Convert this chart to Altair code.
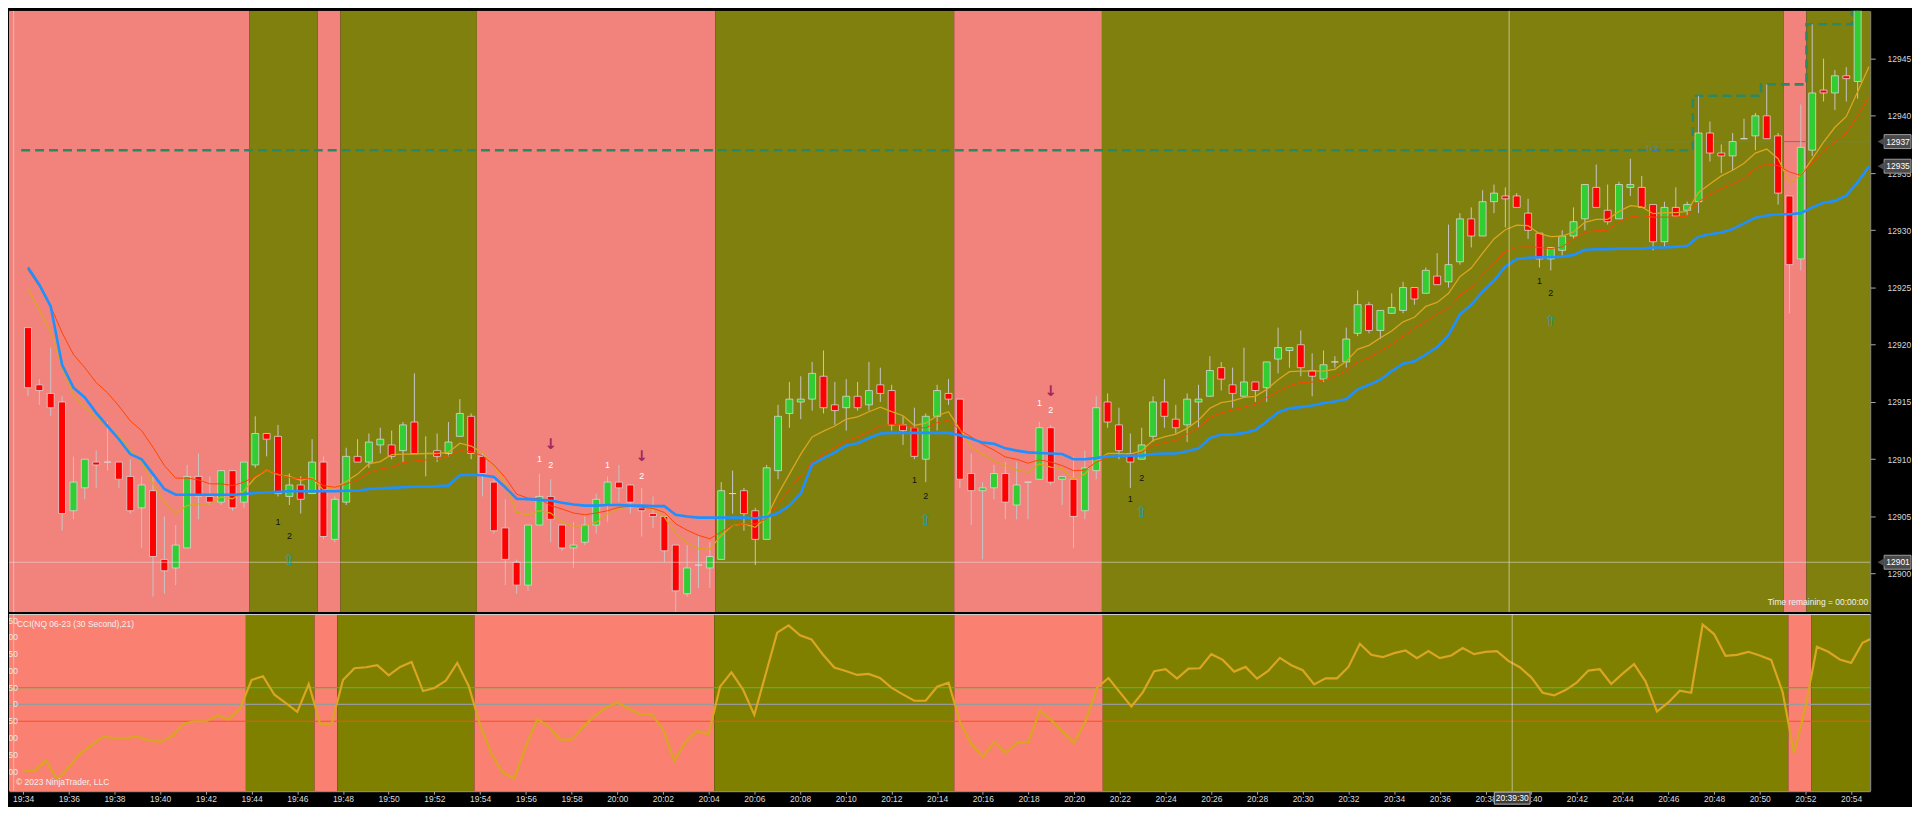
import altair as alt
import numpy as np
import pandas as pd

# ---------------- data ----------------
START = "2023-05-10 19:34:00"
BAR_SECONDS = 30

OPEN = [
    12921.5, 12916.5, 12915.75, 12915.0, 12905.5, 12907.5, 12909.75, 12909.75, 12909.75, 12908.5,
    12905.75, 12907.25, 12901.25, 12900.5, 12902.25, 12908.5, 12906.75, 12906.25, 12909.0, 12906.25,
    12909.5, 12912.25, 12912.0, 12906.75, 12907.75, 12907.0, 12909.75, 12903.0, 12906.25, 12910.25,
    12909.75, 12911.25, 12911.25, 12910.75, 12913.25, 12910.5, 12910.75, 12910.5, 12912.0, 12913.75,
    12910.25, 12908.0, 12904.0, 12901.0, 12899.0, 12904.25, 12906.75, 12904.25, 12902.25, 12902.75,
    12904.25, 12906.0, 12908.0, 12907.75, 12905.75, 12905.25, 12905.0, 12902.5, 12898.25, 12900.75,
    12900.5, 12901.25, 12907.0, 12907.25, 12905.5, 12903.0, 12909.0, 12914.0, 12915.0, 12915.25,
    12917.25, 12914.75, 12914.5, 12915.5, 12914.75, 12916.5, 12916.0, 12913.0, 12912.75, 12910.0,
    12913.75, 12915.75, 12915.25, 12908.75, 12907.25, 12907.5, 12908.75, 12906.0, 12908.0, 12908.25,
    12912.75, 12908.25, 12908.25, 12905.5, 12909.0, 12915.0, 12913.0, 12910.5, 12910.0, 12912.0,
    12915.0, 12913.5, 12913.0, 12915.0, 12915.5, 12918.0, 12916.5, 12915.5, 12916.75, 12916.25,
    12918.75, 12919.5, 12920.0, 12917.75, 12917.0, 12918.5, 12918.5, 12921.0, 12923.5, 12921.25,
    12922.75, 12923.0, 12925.0, 12924.5, 12926.0, 12925.5, 12927.25, 12931.0, 12929.5, 12932.5,
    12933.0, 12933.0, 12931.5, 12929.75, 12927.5, 12928.25, 12929.5, 12931.0, 12933.75, 12931.75,
    12931.0, 12933.75, 12933.75, 12932.25, 12929.0, 12932.0, 12931.75, 12932.5, 12938.5, 12936.75,
    12936.5, 12938.0, 12938.25, 12940.0, 12938.25, 12933.0, 12927.5, 12937.0, 12942.25, 12942.0,
    12943.5, 12943.0, 12950.5]

HIGH = [
    12921.5, 12917.0, 12919.75, 12915.5, 12910.25, 12910.0, 12910.75, 12913.25, 12909.75, 12910.0,
    12908.5, 12908.5, 12905.0, 12904.25, 12909.5, 12910.5, 12908.5, 12909.0, 12909.0, 12909.75,
    12913.75, 12912.25, 12913.0, 12908.75, 12908.5, 12911.75, 12910.25, 12906.75, 12911.0, 12911.75,
    12912.25, 12912.75, 12912.5, 12913.25, 12917.5, 12912.0, 12912.25, 12913.25, 12915.25, 12914.0,
    12910.5, 12908.25, 12906.5, 12901.25, 12904.25, 12908.75, 12908.25, 12904.25, 12904.5, 12905.0,
    12907.0, 12908.5, 12909.5, 12907.75, 12907.5, 12906.75, 12905.0, 12902.5, 12902.5, 12903.25,
    12902.75, 12908.0, 12909.0, 12907.5, 12905.75, 12909.5, 12914.75, 12916.75, 12917.25, 12918.5,
    12919.5, 12916.75, 12917.0, 12916.75, 12918.5, 12918.0, 12916.5, 12913.75, 12914.5, 12914.0,
    12916.5, 12917.0, 12915.25, 12910.5, 12908.0, 12909.5, 12909.75, 12909.75, 12908.0, 12913.25,
    12913.0, 12908.5, 12910.25, 12910.75, 12915.5, 12915.75, 12914.5, 12912.25, 12912.75, 12915.5,
    12917.0, 12914.75, 12915.75, 12916.5, 12919.0, 12918.5, 12918.0, 12919.75, 12916.75, 12918.5,
    12921.5, 12919.75, 12921.25, 12919.25, 12919.5, 12919.0, 12921.5, 12924.75, 12923.75, 12923.0,
    12924.5, 12925.5, 12925.0, 12926.75, 12928.0, 12930.5, 12931.5, 12932.0, 12933.5, 12934.0,
    12933.75, 12933.25, 12932.75, 12929.75, 12928.5, 12930.0, 12932.0, 12934.0, 12935.75, 12934.0,
    12934.25, 12936.25, 12934.75, 12932.25, 12932.5, 12933.75, 12932.5, 12941.75, 12939.5, 12937.5,
    12938.5, 12939.75, 12940.25, 12942.75, 12938.5, 12933.0, 12941.0, 12948.0, 12945.0, 12944.0,
    12944.25, 12950.5, 12952.0]

LOW = [
    12915.5, 12914.75, 12913.75, 12903.75, 12904.75, 12906.5, 12907.5, 12909.0, 12907.5, 12905.25,
    12902.25, 12898.0, 12898.25, 12899.0, 12902.25, 12904.75, 12906.0, 12906.0, 12905.5, 12905.75,
    12909.25, 12910.25, 12906.75, 12906.0, 12905.25, 12907.0, 12903.0, 12902.75, 12906.0, 12909.75,
    12909.25, 12910.5, 12910.0, 12909.75, 12910.5, 12908.5, 12909.75, 12910.25, 12912.0, 12910.0,
    12906.75, 12903.5, 12899.0, 12898.25, 12898.5, 12904.25, 12902.75, 12902.0, 12900.5, 12902.5,
    12903.5, 12904.5, 12906.25, 12905.25, 12903.25, 12904.0, 12901.0, 12896.5, 12898.0, 12898.75,
    12898.75, 12901.25, 12905.25, 12903.75, 12900.75, 12903.0, 12908.25, 12912.75, 12913.5, 12914.25,
    12914.0, 12913.0, 12912.5, 12914.25, 12914.25, 12915.0, 12912.5, 12911.25, 12910.0, 12908.0,
    12912.5, 12914.75, 12907.5, 12904.25, 12901.25, 12906.5, 12904.75, 12904.75, 12904.75, 12908.25,
    12907.75, 12906.0, 12902.25, 12904.75, 12908.25, 12912.75, 12910.0, 12907.5, 12910.0, 12911.5,
    12912.75, 12912.25, 12911.5, 12912.75, 12915.5, 12916.0, 12914.5, 12915.5, 12915.0, 12915.0,
    12917.5, 12918.0, 12917.25, 12915.5, 12916.75, 12918.0, 12918.0, 12920.75, 12921.0, 12920.5,
    12922.75, 12922.75, 12923.5, 12924.5, 12925.25, 12925.0, 12927.0, 12928.5, 12929.5, 12931.5,
    12930.25, 12932.0, 12929.25, 12926.75, 12926.5, 12927.75, 12929.25, 12930.0, 12932.0, 12930.5,
    12931.0, 12933.0, 12932.0, 12928.25, 12928.5, 12931.25, 12931.25, 12931.5, 12936.0, 12935.0,
    12935.25, 12938.0, 12937.0, 12938.0, 12932.25, 12922.75, 12926.5, 12936.5, 12941.25, 12940.5,
    12941.25, 12941.5, 12949.25]

CLOSE = [
    12916.25, 12916.0, 12914.5, 12905.25, 12908.0, 12910.0, 12909.5, 12909.75, 12908.25, 12905.5,
    12907.75, 12901.5, 12900.25, 12902.5, 12908.5, 12906.75, 12906.25, 12909.0, 12905.75, 12909.75,
    12912.25, 12911.75, 12907.0, 12907.75, 12906.5, 12909.75, 12903.25, 12906.5, 12910.25, 12909.75,
    12911.5, 12911.75, 12910.25, 12913.0, 12910.5, 12910.5, 12910.25, 12911.5, 12914.0, 12910.5,
    12908.75, 12903.75, 12901.25, 12899.0, 12904.25, 12906.75, 12904.75, 12902.25, 12902.5, 12904.25,
    12906.5, 12908.0, 12907.5, 12906.25, 12905.5, 12905.0, 12902.0, 12898.5, 12900.5, 12900.75,
    12901.5, 12907.25, 12907.0, 12905.25, 12903.0, 12909.25, 12913.75, 12915.25, 12915.25, 12917.5,
    12914.5, 12914.25, 12915.5, 12914.5, 12916.0, 12915.75, 12913.0, 12912.5, 12910.25, 12913.75,
    12916.0, 12915.25, 12908.25, 12907.25, 12907.5, 12908.75, 12906.25, 12907.75, 12908.0, 12912.75,
    12908.0, 12908.5, 12905.0, 12909.25, 12914.5, 12913.25, 12910.75, 12909.75, 12911.25, 12915.0,
    12913.75, 12912.75, 12915.25, 12915.25, 12917.75, 12917.0, 12915.75, 12916.75, 12916.0, 12918.5,
    12919.75, 12919.75, 12918.0, 12917.25, 12918.25, 12918.5, 12920.5, 12923.5, 12921.25, 12923.0,
    12923.25, 12925.0, 12924.0, 12926.5, 12925.25, 12927.0, 12931.0, 12929.5, 12932.5, 12933.25,
    12932.75, 12932.0, 12930.0, 12927.5, 12928.5, 12929.5, 12930.75, 12934.0, 12932.0, 12930.75,
    12934.0, 12934.0, 12932.0, 12929.0, 12932.0, 12931.25, 12932.25, 12938.5, 12936.75, 12936.5,
    12937.75, 12938.0, 12940.0, 12938.0, 12933.25, 12927.0, 12937.25, 12942.0, 12942.0, 12943.5,
    12943.25, 12949.75, 12951.5]

MA_BLUE = [
    12926.75, 12925.25, 12923.35, 12918.25, 12916.25, 12915.4, 12914.05, 12912.9, 12911.75, 12910.45,
    12910.0, 12908.7, 12907.4, 12906.9, 12906.9, 12906.9, 12906.9, 12906.9, 12906.9, 12906.95,
    12907.05, 12907.1, 12907.15, 12907.2, 12907.2, 12907.2, 12907.2, 12907.2, 12907.25, 12907.25,
    12907.4, 12907.45, 12907.5, 12907.55, 12907.6, 12907.6, 12907.65, 12907.7, 12908.6, 12908.65,
    12908.6, 12908.45, 12907.55, 12906.55, 12906.5, 12906.45, 12906.4, 12906.2, 12906.05, 12905.95,
    12905.95, 12906.0, 12906.0, 12905.95, 12905.95, 12905.9, 12905.9, 12905.15, 12905.0, 12904.9,
    12904.9, 12904.9, 12904.9, 12904.9, 12904.85, 12904.95, 12905.3, 12905.95, 12907.0, 12909.55,
    12910.1, 12910.6, 12911.2, 12911.4, 12911.85, 12912.25, 12912.3, 12912.3, 12912.3, 12912.3,
    12912.3, 12912.3, 12912.1, 12911.8, 12911.45, 12911.35, 12910.95, 12910.75, 12910.6, 12910.55,
    12910.5, 12910.45, 12910.0, 12910.0, 12910.1, 12910.25, 12910.3, 12910.3, 12910.3, 12910.45,
    12910.5, 12910.5, 12910.7, 12910.95, 12911.85, 12912.15, 12912.15, 12912.3, 12912.55, 12913.3,
    12914.1, 12914.45, 12914.55, 12914.7, 12914.9, 12915.05, 12915.25, 12916.1, 12916.5, 12916.95,
    12917.7, 12918.35, 12918.55, 12919.15, 12919.8, 12920.85, 12922.65, 12923.5, 12924.65, 12925.6,
    12926.85, 12927.5, 12927.6, 12927.65, 12927.65, 12927.7, 12927.85, 12928.3, 12928.35, 12928.35,
    12928.4, 12928.4, 12928.4, 12928.5, 12928.5, 12928.55, 12928.65, 12929.45, 12929.65, 12929.8,
    12930.1, 12930.6, 12931.1, 12931.3, 12931.4, 12931.4, 12931.5, 12932.0, 12932.4, 12932.55,
    12933.05, 12934.2, 12935.6]

MA_GOLD = [
    12924.9, 12923.05, 12921.15, 12918.0, 12915.65, 12914.5, 12913.65, 12912.9, 12912.05, 12910.75,
    12909.8, 12907.85, 12906.25, 12905.3, 12905.95, 12906.1, 12906.1, 12906.7, 12906.55, 12907.25,
    12908.4, 12909.05, 12908.65, 12908.5, 12908.15, 12908.4, 12907.3, 12907.55, 12908.05, 12908.7,
    12909.6, 12909.8, 12910.4, 12910.45, 12910.45, 12910.5, 12910.5, 12910.6, 12911.4, 12911.15,
    12910.55, 12909.45, 12907.85, 12905.35, 12905.15, 12905.5, 12905.3, 12904.5, 12904.15, 12904.2,
    12904.5, 12905.25, 12905.65, 12905.9, 12905.85, 12905.65, 12904.95, 12903.5, 12902.7, 12902.2,
    12902.15, 12903.35, 12904.2, 12904.35, 12904.05, 12904.95, 12906.95, 12908.7, 12910.45, 12911.95,
    12912.45, 12912.9, 12913.5, 12913.7, 12914.15, 12914.55, 12914.15, 12913.8, 12912.95, 12913.15,
    12913.8, 12914.15, 12912.6, 12911.05, 12910.45, 12909.85, 12909.45, 12909.05, 12908.85, 12909.6,
    12909.3, 12909.15, 12908.3, 12908.7, 12909.85, 12910.5, 12910.5, 12910.45, 12910.75, 12911.65,
    12911.95, 12912.2, 12912.7, 12913.4, 12914.45, 12914.95, 12915.1, 12915.4, 12915.5, 12916.1,
    12916.95, 12917.65, 12917.7, 12917.7, 12917.7, 12917.85, 12918.55, 12919.6, 12919.95, 12920.6,
    12921.2, 12922.0, 12922.4, 12923.35, 12923.7, 12924.5, 12925.95, 12926.7, 12928.0, 12929.25,
    12930.05, 12930.45, 12930.4, 12929.7, 12929.45, 12929.5, 12929.85, 12930.7, 12930.95, 12930.95,
    12931.65, 12932.15, 12932.05, 12931.45, 12931.55, 12931.55, 12931.65, 12933.3, 12934.05, 12934.75,
    12935.25, 12935.85, 12936.75, 12937.1, 12936.25, 12934.2, 12934.8, 12936.25, 12937.7, 12939.0,
    12939.95, 12942.1, 12944.3]

MA_RED = [
    12926.55, 12925.1, 12923.35, 12921.05, 12919.15, 12918.0, 12916.7, 12915.8, 12914.65, 12913.35,
    12912.5, 12911.05, 12909.45, 12908.35, 12908.35, 12908.2, 12907.85, 12907.85, 12907.7, 12908.0,
    12908.5, 12909.05, 12908.7, 12908.4, 12908.3, 12908.3, 12907.7, 12907.55, 12907.85, 12908.2,
    12908.85, 12909.15, 12909.3, 12909.7, 12909.85, 12909.95, 12910.0, 12910.3, 12910.75, 12910.65,
    12910.3, 12909.5, 12908.4, 12906.95, 12906.6, 12906.55, 12905.95, 12905.65, 12905.3, 12905.15,
    12905.3, 12905.5, 12905.8, 12905.9, 12905.8, 12905.7, 12905.35, 12904.35, 12903.8, 12903.35,
    12903.05, 12903.65, 12904.2, 12904.35, 12904.35, 12904.8, 12906.1, 12907.4, 12908.55, 12909.7,
    12910.45, 12911.05, 12911.6, 12911.95, 12912.4, 12912.9, 12913.05, 12913.0, 12912.75, 12912.75,
    12913.2, 12913.4, 12912.55, 12911.95, 12911.3, 12910.8, 12910.2, 12910.0, 12909.65, 12909.95,
    12909.75, 12909.45, 12909.0, 12909.05, 12909.75, 12910.15, 12910.3, 12910.35, 12910.6, 12911.2,
    12911.45, 12911.65, 12912.2, 12912.75, 12913.65, 12914.05, 12914.3, 12914.55, 12914.8, 12915.4,
    12915.95, 12916.4, 12916.7, 12916.75, 12916.9, 12917.25, 12917.75, 12918.5, 12918.85, 12919.45,
    12920.05, 12920.75, 12921.45, 12922.05, 12922.7, 12923.2, 12924.35, 12925.0, 12926.1, 12927.1,
    12928.15, 12928.5, 12928.55, 12928.5, 12928.4, 12928.55, 12929.25, 12929.8, 12930.0, 12930.0,
    12930.75, 12931.15, 12931.3, 12931.15, 12931.15, 12931.15, 12931.25, 12932.5, 12933.1, 12933.65,
    12934.05, 12934.55, 12935.4, 12935.8, 12935.65, 12935.1, 12934.8, 12935.9, 12936.95, 12937.7,
    12938.5, 12940.0, 12941.65]

CCI = [
    -199, -199, -167, -225, -187, -146, -121, -96, -100, -100,
    -96, -107, -111, -96, -58, -50, -50, -33, -45, -11,
    73, 84, 29, 4, -22, 61, -58, -58, 73, 108,
    111, 117, 87, 112, 127, 40, 49, 71, 124, 55,
    -61, -148, -204, -220, -125, -44, -65, -105, -105, -68,
    -35, -10, 6, -12, -29, -29, -73, -168, -110, -79,
    -89, 53, 96, 45, -31, 91, 214, 236, 206, 194,
    149, 110, 100, 88, 91, 79, 50, 30, 11, 11,
    53, 65, -52, -118, -156, -112, -144, -114, -112, -17,
    -47, -81, -114, -49, 50, 79, 36, -6, 36, 99,
    105, 77, 107, 108, 150, 133, 98, 112, 77, 101,
    139, 117, 102, 60, 78, 78, 112, 181, 148, 141,
    153, 161, 138, 159, 138, 146, 168, 150, 157, 159,
    130, 111, 81, 35, 27, 43, 66, 101, 105, 61,
    92, 120, 69, -21, 6, 41, 35, 238, 210, 145,
    148, 157, 146, 133, 37, -145, -9, 172, 157, 134,
    124, 184, 200]

# background regime bands (first bar, last bar, state)
BAND_FIRST = [0, 20, 26, 28, 40, 61, 82, 95, 155, 157]
BAND_LAST = [19, 25, 27, 39, 60, 81, 94, 154, 156, 162]
BAND_STATE = ["bear", "bull", "bear", "bull", "bear", "bull", "bear", "bull", "bear", "bull"]

# dashed step line (bar position of each vertex, level)
STEP_BAR = [-0.6, 146.5, 146.5, 152.5, 152.5, 156.5, 156.5, 160.5, 160.5, 163.0]
STEP_LEVEL = [12937.0, 12937.0, 12941.75, 12941.75, 12942.75, 12942.75, 12948.0, 12948.0, 12953.0, 12953.0]

R2_LEVEL = 12937.75
R2_FROM_BAR = 142.1

MARK_BAR = [22, 23, 45, 46, 51, 54, 78, 79, 89, 90, 97, 98, 133, 134]
MARK_TEXT = ["1", "2", "1", "2", "1", "2", "1", "2", "1", "2", "1", "2", "1", "2"]
MARK_PRICE = [12904.5, 12903.3, 12910.0, 12909.5, 12909.5, 12908.5, 12908.2, 12906.8,
              12914.95, 12914.3, 12906.55, 12908.4, 12925.6, 12924.5]

ARROW_BAR = [23, 46, 54, 79, 90, 98, 134]
ARROW_DIR = ["up", "down", "down", "up", "down", "up", "up"]
ARROW_PRICE = [12901.2, 12911.35, 12910.3, 12904.7, 12915.95, 12905.4, 12922.05]

CROSS_BAR = 130.36
CROSS_PRICE = 12901.0
CROSS_TIME_LABEL = "20:39:30"

BOX_LEVEL = [12937.75, 12935.6, 12901.0]
BOX_TEXT = ["12937", "12935", "12901"]

PRICE_TICKS = [12900, 12905, 12910, 12915, 12920, 12925, 12930, 12935, 12940, 12945]
CCI_TICKS = [250, 200, 150, 100, 50, 0, -50, -100, -150, -200]
CCI_LEVELS = [50, 0, -50]

# ---------------- styling / layout ----------------
FONT = "Liberation Sans"
FS = 8.5
W = 1870
H1 = 604
H2 = 178
PRICE_SALMON = "#F1827C"
PRICE_OLIVE = "#80800E"
CCI_SALMON = "#FA8072"
CCI_OLIVE = "#808000"


def ts(i):
    return pd.Timestamp(START) + pd.Timedelta(seconds=BAR_SECONDS * i)


def iso(i):
    return ts(i).strftime("%Y-%m-%dT%H:%M:%S")


def dt(i):
    t = ts(i)
    return alt.DateTime(year=int(t.year), month=int(t.month), date=int(t.day),
                        hours=int(t.hour), minutes=int(t.minute), seconds=int(t.second))


n = len(OPEN)
bars = pd.DataFrame({
    "t": [iso(i) for i in range(n)],
    "o": OPEN, "h": HIGH, "l": LOW, "c": CLOSE,
    "blue": MA_BLUE, "gold": MA_GOLD, "red": MA_RED, "cci": CCI,
})

bands = pd.DataFrame({
    "t0": [iso(-4 if k == 0 else f - 0.5) for k, f in enumerate(BAND_FIRST)],
    "t1": [iso(166 if k == len(BAND_LAST) - 1 else l + 0.5) for k, l in enumerate(BAND_LAST)],
    "state": BAND_STATE,
})


def state_of(i):
    for f, l, s in zip(BAND_FIRST, BAND_LAST, BAND_STATE):
        if f <= i <= l:
            return s
    return "bull"


steps = pd.DataFrame({"t": [iso(b) for b in STEP_BAR], "v": STEP_LEVEL})
r2 = pd.DataFrame({"t": [iso(R2_FROM_BAR), iso(166)], "v": [R2_LEVEL, R2_LEVEL]})
marks = pd.DataFrame({"t": [iso(b) for b in MARK_BAR], "v": MARK_PRICE, "txt": MARK_TEXT,
                      "bg": [state_of(b) for b in MARK_BAR]})
arrows = pd.DataFrame({"t": [iso(b) for b in ARROW_BAR], "v": ARROW_PRICE, "dir": ARROW_DIR,
                       "glyph": ["\u21e7" if d == "up" else "\u2193" for d in ARROW_DIR]})
cross_t = pd.DataFrame({"t": [iso(CROSS_BAR)], "s": [CROSS_TIME_LABEL]})
cross_p = pd.DataFrame({"v": [CROSS_PRICE]})
boxes = pd.DataFrame({"v": BOX_LEVEL, "s": BOX_TEXT})
cci_ticks = pd.DataFrame({"v": CCI_TICKS, "s": [str(v) for v in CCI_TICKS]})
cci_levels = pd.DataFrame({"v": CCI_LEVELS, "k": ["hi", "zero", "lo"]})

XSCALE = alt.Scale(domain=[dt(-1.233), dt(161.667)])
YSCALE = alt.Scale(domain=[12896.65, 12949.17], nice=False, zero=False)
CSCALE = alt.Scale(domain=[-258.6, 269.7], nice=False, zero=False)

YAXIS = alt.Axis(orient="right", values=PRICE_TICKS, format="d", title=None, grid=False,
                 labelColor="#d6d6d6", labelFont=FONT, labelFontSize=FS, labelPadding=12,
                 tickColor="#a8a8a8", tickSize=5, domainColor="#9a9a9a")
XAXIS = alt.Axis(format="%H:%M", values=[dt(4 * k) for k in range(41)],
                 title=None, grid=False, labelColor="#dcdcdc", labelFont=FONT, labelFontSize=FS,
                 labelPadding=0, tickColor="#a8a8a8", tickSize=3, domainColor="#a8a8a8",
                 labelOverlap=False, labelFlush=False)


def px(f):
    return alt.X(f"{f}:T", scale=XSCALE, axis=None)


def py(f):
    return alt.Y(f"{f}:Q", scale=YSCALE, axis=YAXIS)


def cx(f):
    return alt.X(f"{f}:T", scale=XSCALE, axis=XAXIS)


def cy(f):
    return alt.Y(f"{f}:Q", scale=CSCALE, axis=None)


# ---------------- price panel ----------------
p_bands = alt.Chart(bands).mark_rect(clip=True).encode(
    x=px("t0"), x2="t1:T", y=alt.value(0), y2=alt.value(H1),
    color=alt.condition("datum.state == 'bull'", alt.value(PRICE_OLIVE), alt.value(PRICE_SALMON)))

p_left = alt.Chart(cross_p).mark_rule(color="#e4e4e4", opacity=0.6, strokeWidth=1).encode(
    x=alt.value(4.7))
p_hcross = alt.Chart(cross_p).mark_rule(color="#e6e6e6", opacity=0.55, strokeWidth=1).encode(
    y=py("v"))
p_vcross = alt.Chart(cross_t).mark_rule(color="#e6e6e6", opacity=0.6, strokeWidth=1).encode(
    x=px("t"))
p_r2 = alt.Chart(r2).mark_line(color="#4a80b8", strokeWidth=1, clip=True).encode(
    x=px("t"), y=py("v"))
p_steps = alt.Chart(steps).mark_line(color="#2C8763", strokeWidth=2.6, strokeDash=[9, 5],
                                     clip=True).encode(x=px("t"), y=py("v"))

base = alt.Chart(bars)
p_wick = base.mark_rule(color="#c6c6c6", strokeWidth=1, clip=True).encode(
    x=px("t"), y=py("l"), y2="h:Q")
p_body = base.mark_bar(size=7, stroke="#d8d8d8", strokeWidth=0.8, clip=True).encode(
    x=px("t"), y=py("o"), y2="c:Q",
    color=alt.condition("datum.c >= datum.o", alt.value("#32CD32"), alt.value("#FF0000")))
p_gold = base.mark_line(color="#DAA520", strokeWidth=1.3, clip=True).encode(x=px("t"), y=py("gold"))
p_red = base.mark_line(color="#FF4500", strokeWidth=1.0, clip=True).encode(x=px("t"), y=py("red"))
p_blue = base.mark_line(color="#1E90FF", strokeWidth=2.6, clip=True).encode(x=px("t"), y=py("blue"))

p_r2txt = alt.Chart(pd.DataFrame({"t": [iso(R2_FROM_BAR + 0.3)], "v": [R2_LEVEL], "s": ["R2"]})).mark_text(
    align="left", baseline="top", dy=1, font=FONT, fontSize=10, color="#4a80c0").encode(
    x=px("t"), y=py("v"), text="s:N")

p_marks = alt.Chart(marks).mark_text(font=FONT, fontSize=9, baseline="middle").encode(
    x=px("t"), y=py("v"), text="txt:N",
    color=alt.condition("datum.bg == 'bull'", alt.value("#111111"), alt.value("#ffffff")))
p_arrows = alt.Chart(arrows).mark_text(font="DejaVu Sans", fontSize=15, fontWeight="bold",
                                       baseline="middle").encode(
    x=px("t"), y=py("v"), text="glyph:N",
    color=alt.condition("datum.dir == 'up'", alt.value("#2b9a9a"), alt.value("#a02a5e")))

p_remain = alt.Chart(pd.DataFrame({"s": ["Time remaining = 00:00:00"]})).mark_text(
    align="right", baseline="middle", font=FONT, fontSize=FS, color="#f2f2f2").encode(
    x=alt.value(W - 2), y=alt.value(H1 - 10), text="s:N")

p_box = alt.Chart(boxes).mark_rect(fill="#4a4a4a", stroke="#9c9c9c", strokeWidth=1,
                                   yOffset=-7, y2Offset=7).encode(
    x=alt.value(W + 14), x2=alt.value(W + 41), y=py("v"), y2="v:Q")
p_tip = alt.Chart(boxes).mark_point(shape="triangle-left", size=70, filled=True,
                                    color="#4a4a4a", opacity=1).encode(
    x=alt.value(W + 11), y=py("v"))
p_boxtxt = alt.Chart(boxes).mark_text(font=FONT, fontSize=FS, color="#ffffff", align="center",
                                      baseline="middle").encode(
    x=alt.value(W + 28), y=py("v"), text="s:N")

price = alt.layer(p_bands, p_left, p_r2, p_steps, p_wick, p_body, p_gold, p_red, p_blue,
                  p_hcross, p_vcross, p_r2txt, p_marks, p_arrows, p_remain, p_box, p_tip, p_boxtxt
                  ).properties(width=W, height=H1)

# ---------------- CCI panel ----------------
c_bands = alt.Chart(bands).mark_rect(clip=True).encode(
    x=cx("t0"), x2="t1:T", y=alt.value(0), y2=alt.value(H2),
    color=alt.condition("datum.state == 'bull'", alt.value(CCI_OLIVE), alt.value(CCI_SALMON)))
c_levels = alt.Chart(cci_levels).mark_rule(strokeWidth=1.2).encode(
    y=cy("v"),
    color=alt.Color("k:N", scale=alt.Scale(domain=["hi", "zero", "lo"],
                                           range=["#3CC03C", "#9a9a9a", "#FF4E1A"]), legend=None))
c_line = base.mark_line(color="#DAA520", strokeWidth=2.2, clip=True).encode(x=cx("t"), y=cy("cci"))
c_top = alt.Chart(cross_p).mark_rule(color="#d0d0d0", strokeWidth=1).encode(y=alt.value(0.5))
c_left = alt.Chart(cross_p).mark_rule(color="#e4e4e4", opacity=0.6, strokeWidth=1).encode(
    x=alt.value(4.7))
c_right = alt.Chart(cross_p).mark_rule(color="#9a9a9a", strokeWidth=1).encode(
    x=alt.value(W + 0.5))
c_vcross = alt.Chart(cross_t).mark_rule(color="#e6e6e6", opacity=0.6, strokeWidth=1).encode(
    x=cx("t"))
c_ticks = alt.Chart(cci_ticks).mark_text(align="right", baseline="middle", clip=True, font=FONT,
                                         fontSize=FS, color="#e8e8e8").encode(
    x=alt.value(9), y=cy("v"), text="s:N")
c_title = alt.Chart(pd.DataFrame({"s": ["CCI(NQ 06-23 (30 Second),21)"]})).mark_text(
    align="left", baseline="middle", font=FONT, fontSize=FS, color="#f0f0f0").encode(
    x=alt.value(8), y=alt.value(10), text="s:N")
c_copy = alt.Chart(pd.DataFrame({"s": ["\u00a9 2023 NinjaTrader, LLC"]})).mark_text(
    align="left", baseline="middle", font=FONT, fontSize=FS, color="#f0f0f0").encode(
    x=alt.value(7), y=alt.value(H2 - 9), text="s:N")
c_tbox = alt.Chart(cross_t).mark_rect(fill="#3c3c3c", stroke="#b8b8b8", strokeWidth=1,
                                      xOffset=-18, x2Offset=18).encode(
    x=cx("t"), x2="t:T", y=alt.value(H2 + 1), y2=alt.value(H2 + 13))
c_ttxt = alt.Chart(cross_t).mark_text(font=FONT, fontSize=FS, color="#ffffff",
                                      baseline="middle").encode(
    x=cx("t"), y=alt.value(H2 + 7), text="s:N")

cci = alt.layer(c_bands, c_levels, c_line, c_top, c_left, c_right, c_vcross, c_ticks, c_title,
                c_copy, c_tbox, c_ttxt).properties(width=W, height=H2)

chart = alt.vconcat(price, cci, spacing=0).properties(
    background="#000000", padding=0
).configure_view(strokeWidth=0)

chart.save("out.html", embed_options={"renderer": "svg", "actions": False})
